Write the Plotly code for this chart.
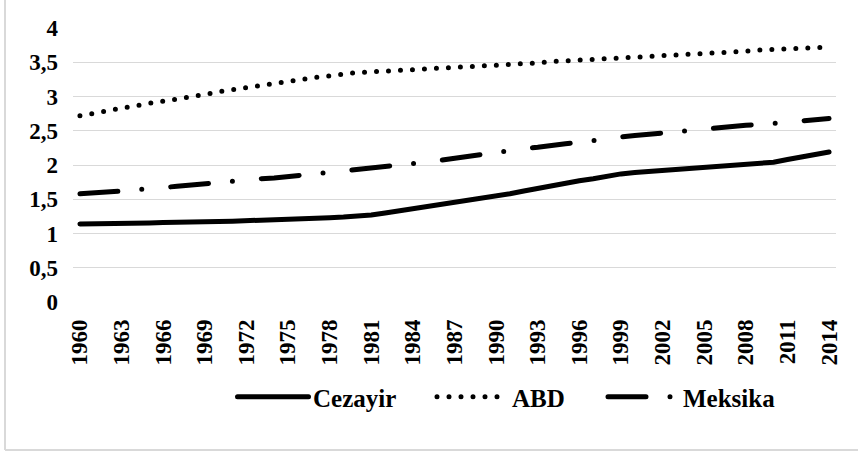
import plotly.graph_objects as go

years = [str(y) for y in range(1960, 2015)]

cezayir = [1.14, 1.14, 1.145, 1.15, 1.15, 1.155, 1.16, 1.16, 1.165, 1.17,
           1.175, 1.18, 1.185, 1.19, 1.20, 1.205, 1.21, 1.22, 1.23, 1.24,
           1.25, 1.27, 1.30, 1.33, 1.36, 1.39, 1.42, 1.45, 1.48, 1.51,
           1.54, 1.58, 1.62, 1.66, 1.70, 1.74, 1.77, 1.80, 1.84, 1.87,
           1.89, 1.905, 1.92, 1.935, 1.95, 1.965, 1.98, 1.995, 2.01, 2.025,
           2.04, 2.08, 2.12, 2.16, 2.19]

abd = [2.72, 2.75, 2.79, 2.83, 2.87, 2.90, 2.93, 2.96, 3.00, 3.03,
       3.07, 3.10, 3.13, 3.17, 3.20, 3.23, 3.26, 3.28, 3.30, 3.33,
       3.35, 3.36, 3.37, 3.38, 3.39, 3.40, 3.41, 3.42, 3.43, 3.44,
       3.45, 3.46, 3.48, 3.49, 3.51, 3.52, 3.53, 3.55, 3.56, 3.57,
       3.58, 3.59, 3.60, 3.61, 3.62, 3.63, 3.64, 3.65, 3.66, 3.68,
       3.69, 3.70, 3.71, 3.71, 3.72]

meksika = [1.58, 1.59, 1.61, 1.62, 1.64, 1.65, 1.67, 1.69, 1.71, 1.72,
           1.74, 1.76, 1.78, 1.80, 1.81, 1.83, 1.85, 1.87, 1.89, 1.91,
           1.93, 1.95, 1.98, 2.00, 2.02, 2.04, 2.07, 2.10, 2.13, 2.16,
           2.18, 2.21, 2.24, 2.26, 2.29, 2.31, 2.33, 2.36, 2.39, 2.41,
           2.43, 2.45, 2.47, 2.49, 2.51, 2.53, 2.55, 2.56, 2.58, 2.59,
           2.61, 2.63, 2.64, 2.66, 2.68]

x_ticks = years[::3]
y_ticks = [0, 0.5, 1, 1.5, 2, 2.5, 3, 3.5, 4]
y_tick_labels = ["0", "0,5", "1", "1,5", "2", "2,5", "3", "3,5", "4"]

FONT = "Liberation Serif"

fig = go.Figure()
fig.add_trace(go.Scatter(x=years, y=cezayir, name="Cezayir", mode="lines",
                         legend="legend",
                         line=dict(color="black", width=5)))
fig.add_trace(go.Scatter(x=years, y=abd, name="ABD", mode="lines",
                         legend="legend2",
                         line=dict(color="black", width=5, dash="0px,12px")))
fig.add_trace(go.Scatter(x=years, y=meksika, name="Meksika", mode="lines",
                         legend="legend3",
                         line=dict(color="black", width=5, dash="38px,24px,0px,29px")))

L, R, T, B = 73, 22, 28, 150
W, H = 858, 452
pw, ph = W - L - R, H - T - B

leg_font = dict(family=FONT, size=25, color="black", weight="bold")
leg_y = -(397 - (H - B)) / ph


def leg(px):
    return dict(orientation="h", x=(px - L) / pw, xanchor="left",
                y=leg_y, yanchor="middle", font=leg_font,
                bgcolor="rgba(0,0,0,0)", itemwidth=70)


tick_font = dict(family=FONT, size=23, color="black", weight="bold")

fig.update_layout(
    width=W, height=H,
    margin=dict(l=L, r=R, t=T, b=B),
    paper_bgcolor="white", plot_bgcolor="white",
    font=dict(family=FONT, color="black", size=21),
    showlegend=True,
    legend=leg(233), legend2=leg(432), legend3=leg(603),
    xaxis=dict(type="category", range=[-0.5, len(years) - 0.5],
               tickmode="array", tickvals=x_ticks, ticktext=x_ticks,
               tickangle=-90, showgrid=False, zeroline=False, showline=False,
               ticks="", ticklabelstandoff=12, tickfont=tick_font),
    yaxis=dict(range=[0, 4], tickmode="array", tickvals=y_ticks,
               ticktext=y_tick_labels, showgrid=True, gridcolor="#d9d9d9",
               gridwidth=1.3, zeroline=False, showline=False, ticks="",
               ticklabelstandoff=14, tickfont=tick_font),
    shapes=[
        dict(type="line", xref="paper", yref="paper",
             x0=(5 - L) / pw, x1=(5 - L) / pw, y0=-(450 - (H - B)) / ph, y1=(H - B + 5) / ph,
             line=dict(color="#d9d9d9", width=2)),
        dict(type="line", xref="paper", yref="paper",
             x0=(5 - L) / pw, x1=(W + 5 - L) / pw, y0=-(450 - (H - B)) / ph, y1=-(450 - (H - B)) / ph,
             line=dict(color="#d9d9d9", width=2)),
    ],
)

post = """
document.body.style.margin='0';
function rc(){
  document.querySelectorAll('path.js-line').forEach(function(p){p.style.strokeLinecap='round';});
  document.querySelectorAll('.legend path.js-line').forEach(function(p){p.setAttribute('d','M4.5,0h71');});
}
rc(); setTimeout(rc, 50); setTimeout(rc, 300);
"""
fig.write_html("out.html", post_script=post, config={"displayModeBar": False})
